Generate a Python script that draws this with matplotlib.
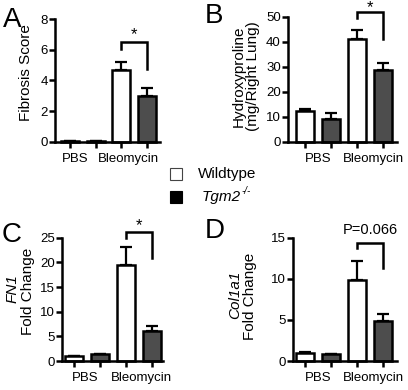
import matplotlib
matplotlib.use('Agg')
from matplotlib import pyplot as plt
from matplotlib.patches import Rectangle

plt.rcParams['font.family'] = ['Liberation Sans', 'DejaVu Sans']

W, H = 408, 390

# bar order: WT PBS, KO PBS, WT Bleo, KO Bleo
groups = ['PBS', 'Bleomycin']
legend_labels = ['Wildtype', 'Tgm2']
legend_sup = ['', '-/-']

fibrosis = [0.05, 0.05, 4.7, 3.0]
fibrosis_sem = [0.0, 0.0, 0.5, 0.5]
hydroxy = [12.2, 9.0, 41.2, 28.7]
hydroxy_sem = [1.0, 2.6, 3.5, 2.6]
fn1 = [0.95, 1.35, 19.5, 6.1]
fn1_sem = [0.1, 0.15, 3.7, 1.0]
col1a1 = [1.0, 0.8, 9.9, 4.9]
col1a1_sem = [0.05, 0.05, 2.3, 0.8]

# bracket: (left leg end, top, right leg end), annotation text, text y
brackets = {
    'A': ((6.04, 6.52, 4.74), '*', 6.95),
    'B': ((49.3, 51.7, 41.0), '*', 53.6),
    'C': ((24.9, 26.2, 20.8), '*', 27.5),
    'D': ((13.7, 14.4, 11.3), 'P=0.066', 15.9),
}

WT_COLOR = 'white'
KO_COLOR = '#4d4d4d'
LW = 1.8


def fx(px):
    return px / W


def fy(py):
    return 1 - py / H


def make_axes(fig, left, right, top, bottom):
    return fig.add_axes([fx(left), fy(bottom), (right - left) / W, (bottom - top) / H])


def bar_panel(ax, values, sem, ylim, yticks, xlim, key, label_x):
    x = list(range(len(values)))
    colors = [WT_COLOR, KO_COLOR, WT_COLOR, KO_COLOR]
    ax.errorbar(x, values, yerr=[[0] * len(sem), sem], fmt='none', ecolor='black',
                elinewidth=1.6, capsize=4.2, capthick=1.6, zorder=1, clip_on=False)
    ax.bar(x, values, width=0.7, color=colors, edgecolor='black', linewidth=1.8, zorder=2,
           clip_on=False)
    ax.set_xlim(*xlim)
    ax.set_ylim(*ylim)
    ax.set_yticks(yticks)
    ax.set_xticks(x)
    ax.set_xticklabels([])
    for s in ['top', 'right']:
        ax.spines[s].set_visible(False)
    for s in ['left', 'bottom']:
        ax.spines[s].set_linewidth(LW)
    ax.tick_params(axis='both', direction='out', length=4, width=LW, labelsize=9.5, pad=1)
    ax.patch.set_alpha(0)

    (l, t, r), txt, ty = brackets[key]
    ax.plot([2, 2, 3, 3], [l, t, t, r], color='black', lw=LW, clip_on=False,
            solid_joinstyle='miter')
    ax.text(2.5, ty, txt, ha='center', va='center', fontsize=12 if txt == '*' else 10.5)

    for gx, g in zip(label_x, groups):
        ax.annotate(g, xy=(gx, 0), xycoords='data', xytext=(0, -17),
                    textcoords='offset pixels', ha='center', va='center', fontsize=9.5)


fig = plt.figure(figsize=(W / 100, H / 100), dpi=100)

axA = make_axes(fig, 55, 160, 19, 141.7)
bar_panel(axA, fibrosis, fibrosis_sem, (0, 8), [0, 2, 4, 6, 8], (-0.59, 3.52), 'A', [0.2, 2.3])

axB = make_axes(fig, 287.7, 397, 16.7, 141.7)
bar_panel(axB, hydroxy, hydroxy_sem, (0, 50), [0, 10, 20, 30, 40, 50], (-0.67, 3.55), 'B',
          [0.5, 2.65])

axC = make_axes(fig, 61.7, 163, 237.7, 361)
bar_panel(axC, fn1, fn1_sem, (0, 25), [0, 5, 10, 15, 20, 25], (-0.47, 3.42), 'C', [0.45, 2.6])

axD = make_axes(fig, 293, 397, 237.7, 361)
bar_panel(axD, col1a1, col1a1_sem, (0, 15), [0, 5, 10, 15], (-0.46, 3.54), 'D', [0.5, 2.65])

# y labels
fig.text(fx(26), fy(73), 'Fibrosis Score', rotation=90, ha='center', va='center', fontsize=11)
fig.text(fx(246), fy(76), 'Hydroxyproline\n(mg/Right Lung)', rotation=90, ha='center',
         va='center', fontsize=11, multialignment='center', linespacing=1.0)
fig.text(fx(13), fy(289), 'FN1', rotation=90, ha='center', va='center', fontsize=11,
         style='italic')
fig.text(fx(28), fy(291), 'Fold Change', rotation=90, ha='center', va='center', fontsize=11)
fig.text(fx(235), fy(295), 'Col1a1', rotation=90, ha='center', va='center', fontsize=11,
         style='italic')
fig.text(fx(250), fy(296), 'Fold Change', rotation=90, ha='center', va='center', fontsize=11)

# panel letters
for letter, (px, py) in zip('ABCD', [(3, 7), (205, 3), (2, 222), (205, 218)]):
    fig.text(fx(px), fy(py), letter, ha='left', va='top', fontsize=20)

# legend
for i, (lab, sup, col) in enumerate(zip(legend_labels, legend_sup, ['white', 'black'])):
    y_top = 168 + i * 22.5
    fig.add_artist(Rectangle((fx(170), fy(y_top + 12)), 12 / W, 12 / H,
                             transform=fig.transFigure, facecolor=col,
                             edgecolor='#444444' if col == 'white' else 'black', lw=0.8))
    if sup:
        fig.text(fx(202), fy(y_top + 6), lab, ha='left', va='center', fontsize=11,
                 style='italic')
        fig.text(fx(241), fy(y_top + 1), sup, ha='left', va='center', fontsize=7,
                 style='italic')
    else:
        fig.text(fx(198), fy(y_top + 6), lab, ha='left', va='center', fontsize=11)

fig.savefig('out.png', dpi=100)
